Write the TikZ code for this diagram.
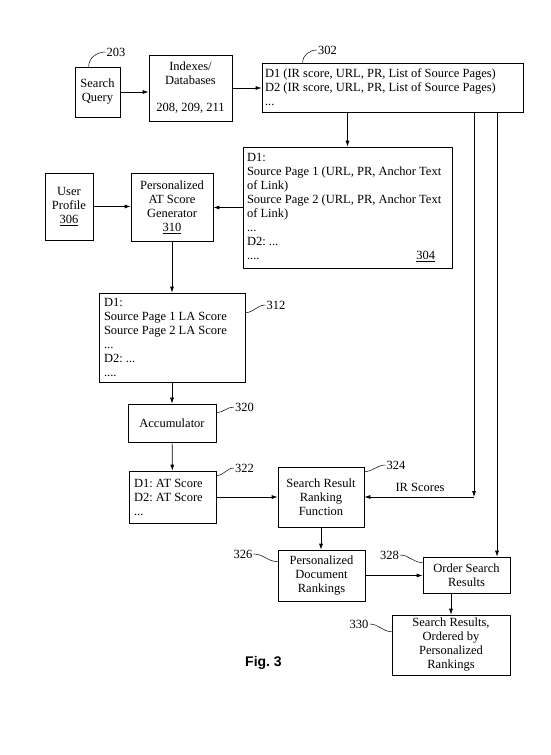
\documentclass[tikz,border=0pt]{standalone}
\usepackage{fontspec}
\setmainfont{Liberation Serif}
\newfontfamily\figfont{Liberation Sans}
\usetikzlibrary{arrows.meta,calc}
\frenchspacing
\def\leader(#1)(#2){\draw[lead] (#1) to[out=0,in=180] (#2);}

\begin{document}
\begin{tikzpicture}[x=1pt,y=-1pt,
  every node/.style={font=\fontsize{12.5}{14}\selectfont},
  box/.style={draw,line width=0.7pt,inner sep=0pt,align=center},
  list/.style={box,align=flush left,inner xsep=5pt},
  arr/.style={-{Latex[length=6pt,width=4pt]},line width=0.7pt},
  lead/.style={line width=0.5pt},
  num/.style={inner sep=1pt}]
			%%%%% START %%%%%
			\useasboundingbox (0,0) rectangle (551,755);
			
			\node[box,minimum width=45pt,minimum height=50pt] (query) at (97.5,92) {Search\\Query};
			\node[box,minimum width=83pt,minimum height=66pt] (index) at (190.5,88) {Indexes/\\Databases\\[13pt]208, 209, 211};
			\node[list,inner xsep=3pt,text width=255pt,minimum height=49pt] (docs) at (392.5,87.5) {D1 (IR score, URL, PR, List of Source Pages)\\D2 (IR score, URL, PR, List of Source Pages)\\...};
			
			\node[list,inner xsep=4pt,text width=201pt,minimum height=121pt] (src) at (347.5,207.5) {D1:\\Source Page 1 (URL, PR, Anchor Text\\of Link)\\Source Page 2 (URL, PR, Anchor Text\\of Link)\\...\\D2: ...\\....\hfill\underline{304}\hspace*{13pt}\mbox{}};
			\node[box,minimum width=82pt,minimum height=68pt] (gen) at (172,207) {Personalized\\AT Score\\Generator\\\underline{310}};
			\node[box,minimum width=48pt,minimum height=67pt] (user) at (69,206.5) {User\\Profile\\\underline{306}};
			
			\node[list,text width=136pt,minimum height=89pt] (la) at (172,337.5) {D1:\\Source Page 1 LA Score\\Source Page 2 LA Score\\...\\D2: ...\\....};
			\node[box,minimum width=88pt,minimum height=38pt] (acc) at (172,423) {Accumulator};
			\node[list,text width=77pt,minimum height=52pt] (at) at (172.5,497) {D1: AT Score\\D2: AT Score\\...};
			\node[box,minimum width=86pt,minimum height=60pt] (rank) at (321,497) {Search Result\\Ranking\\Function};
			
			\node[box,minimum width=87pt,minimum height=51pt] (pers) at (321.5,575.5) {Personalized\\Document\\Rankings};
			\node[box,minimum width=87pt,minimum height=36pt] (order) at (466.5,575) {Order Search\\Results};
			\node[box,minimum width=118pt,minimum height=60pt] (res) at (451,645) {Search Results,\\Ordered by\\Personalized\\Rankings};
			
			% reference numerals
			\node[num] (n203) at (116,52) {203};
			\node[num] (n302) at (327.5,50) {302};
			\node[num] (n312) at (276,305) {312};
			\node[num] (n320) at (244.5,407) {320};
			\node[num] (n322) at (244.5,468) {322};
			\node[num] (n324) at (396,465) {324};
			\node[num] (n326) at (243,554) {326};
			\node[num] (n328) at (389.5,555) {328};
			\node[num] (n330) at (359,624) {330};
			\node (irs) at (420,487) {IR Scores};
			\node[font=\fontsize{14}{16}\selectfont\figfont\bfseries] (fig) at (263.5,663) {Fig. 3};
			
			\draw[lead] ([xshift=14pt]query.north west) to[out=90,in=180] (n203.west);
			\draw[lead] ([xshift=41pt]docs.north west) to[out=90,in=180] (n302.west);
			\leader([yshift=-20pt]la.north east)(n312.west)
			\leader([yshift=-9pt]acc.north east)(n320.west)
			\leader([yshift=-5pt]at.north east)(n322.west)
			\leader([yshift=-5pt]rank.north east)(n324.west)
			\leader(n326.east)([yshift=-12pt]pers.north west)
			\leader(n328.east)([yshift=-6pt]order.north west)
			\leader(n330.east)([yshift=-17pt]res.north west)
			
			\draw[arr] (query.east) -- (query.east -| index.west);
			\draw[arr] (index.east) -- (index.east -| docs.west);
			\draw[arr] (docs.south -| src.north) -- (src.north);
			\draw[arr] (src.west) -- (src.west -| gen.east);
			\draw[arr] (user.east) -- (user.east -| gen.west);
			\draw[arr] (gen) -- (la);
			\draw[arr] (la) -- (acc);
			\draw[arr] (acc) -- (at);
			\draw[arr] (at) -- (rank);
			
			\coordinate (ir) at (474,497);
			\coordinate (tap) at (497,112);
			\draw[arr] (docs.south -| ir) -- (ir);
			\draw[arr] (ir) -- (rank);
			\draw[arr] (tap) -- (tap |- order.north);
			
			\draw[arr] (rank.south) -- (rank.south |- pers.north);
			\draw[arr] (pers.east) -- (pers.east -| order.west);
			\draw[arr] (order.south -| res.north) -- (res.north);
			%%%%% END %%%%%
\end{tikzpicture}
\end{document}
